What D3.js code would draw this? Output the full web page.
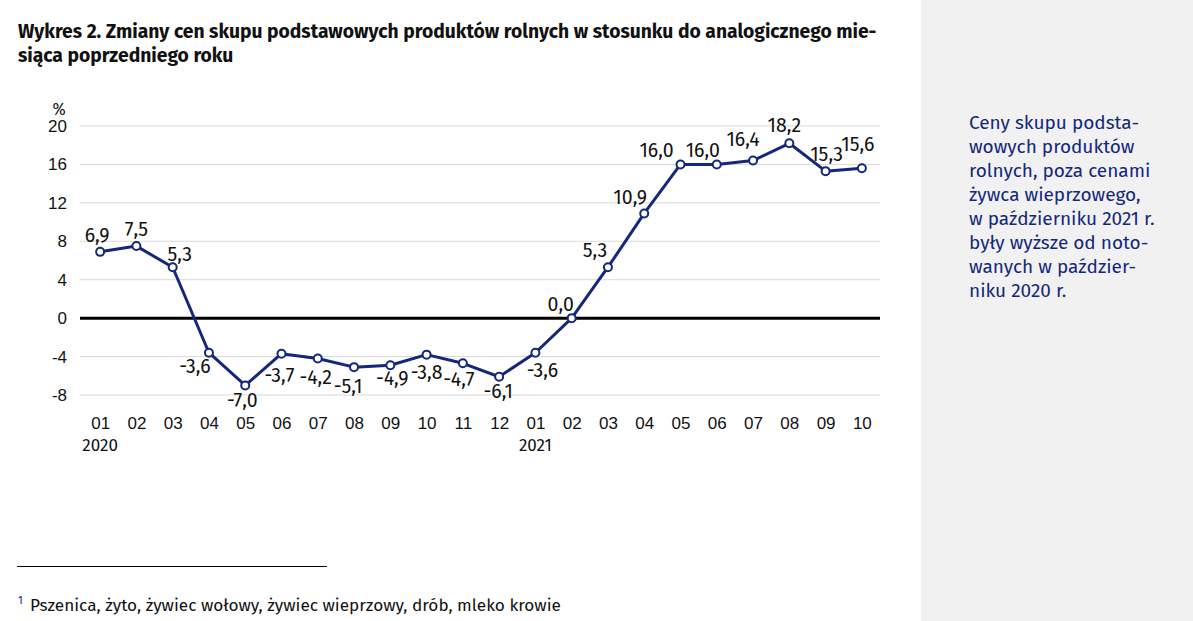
<!DOCTYPE html>
<html>
<head>
<meta charset="utf-8">
<script src="https://cdn.jsdelivr.net/npm/d3@7"></script>
<style>
  body { margin: 0; background: #fff; }
  svg { display: block; font-family: "Fira Sans", Roboto, "Noto Sans", sans-serif; }
</style>
</head>
<body>
<script>
// ---- data
const months = ["01","02","03","04","05","06","07","08","09","10","11","12",
                "01","02","03","04","05","06","07","08","09","10"];
const years = ["2020","","","","","","","","","","","",
               "2021","","","","","","","","",""];
const values = [6.9, 7.5, 5.3, -3.6, -7.0, -3.7, -4.2, -5.1, -4.9, -3.8, -4.7, -6.1,
                -3.6, 0.0, 5.3, 10.9, 16.0, 16.0, 16.4, 18.2, 15.3, 15.6];
const yTicks = [-8, -4, 0, 4, 8, 12, 16, 20];

// label nudges (px) from each point, the labels in the original were hand placed
const labelNudge = [
  [-3, -10], [0, -10], [7, -6], [-14, 20], [-3, 22], [-2, 28], [-2, 26], [-6, 26],
  [2, 20], [0, 24], [-4, 23], [-1, 21], [7, 24], [-11, -7], [-13, -10], [-14, -9],
  [-24, -7], [-14, -7], [-10, -15], [-5, -11], [1, -10], [-4, -17]
];

const titleLines = [
  "Wykres 2. Zmiany cen skupu podstawowych produktów rolnych w stosunku do analogicznego mie-",
  "siąca poprzedniego roku"
];
const sideLines = [
  "Ceny skupu podsta-",
  "wowych produktów",
  "rolnych, poza cenami",
  "żywca wieprzowego,",
  "w październiku 2021 r.",
  "były wyższe od noto-",
  "wanych w paździer-",
  "niku 2020 r."
];
const footnote = "Pszenica, żyto, żywiec wołowy, żywiec wieprzowy, drób, mleko krowie";

//---- drawing
const W = 1193, H = 621;
const navy = "#13287a";
const ink = "#111";
const plotX1 = 82, plotX2 = 880;

const svg = d3.select("body").append("svg")
  .attr("width", W)
  .attr("height", H);

// grey side panel
svg.append("rect")
  .attr("x", 921).attr("y", 0)
  .attr("width", W - 921).attr("height", H)
  .attr("fill", "#f1f1f1");

svg.append("g").selectAll("text")
    .data(sideLines)
    .enter()
  .append("text")
    .attr("x", 969)
    .attr("y", (d, i) => 129 + i * 24)
    .attr("fill", navy)
    .attr("font-size", 19)
    .text(d => d);

// title
svg.append("g").selectAll("text")
    .data(titleLines)
    .enter()
  .append("text")
    .attr("x", 18)
    .attr("y", (d, i) => 38 + i * 23.5)
    .attr("font-size", 19.3)
    .attr("font-weight", 700)
    .attr("fill", ink)
    .text(d => d);

const x = d3.scalePoint()
  .domain(d3.range(values.length))
  .range([plotX1, plotX2])
  .padding(0.5);

const y = d3.scaleLinear()
  .domain([-8, 20])
  .range([395, 126]);

// gridlines
svg.append("g").selectAll("line")
    .data(yTicks.filter(t => t !== 0))
    .enter()
  .append("line")
    .attr("x1", plotX1 - 2).attr("x2", plotX2)
    .attr("y1", d => y(d)).attr("y2", d => y(d))
    .attr("stroke", "#d9d9d9")
    .attr("stroke-width", 1);

// y axis labels
const yAxis = d3.axisLeft(y)
  .tickValues(yTicks)
  .tickSize(0)
  .tickPadding(0)
  .tickFormat(d => String(d));

svg.append("g")
    .attr("transform", "translate(67,0)")
    .call(yAxis)
    .call(g => g.select(".domain").remove())
    .call(g => g.selectAll("text")
      .attr("font-size", 17)
      .attr("fill", ink)
      .style("font-family", "inherit"));

svg.append("text")
  .attr("x", 59).attr("y", 115)
  .attr("text-anchor", "middle")
  .attr("font-size", 16)
  .attr("fill", ink)
  .text("%");

// zero line
svg.append("line")
  .attr("x1", plotX1 - 2).attr("x2", plotX2)
  .attr("y1", y(0)).attr("y2", y(0))
  .attr("stroke", "#000")
  .attr("stroke-width", 3);

// x axis labels: months + years
const xAxis = d3.axisBottom(x)
  .tickSize(0)
  .tickPadding(0)
  .tickFormat(i => months[i]);

svg.append("g")
    .attr("transform", "translate(0,429)")
    .call(xAxis)
    .call(g => g.select(".domain").remove())
    .call(g => g.selectAll("text")
      .attr("dy", 0)
      .attr("font-size", 17)
      .attr("font-weight", 400)
      .attr("fill", ink)
      .style("font-family", "inherit"));

svg.append("g").selectAll("text")
    .data(years.map((yr, i) => ({ yr, i })).filter(d => d.yr))
    .enter()
  .append("text")
    .attr("x", d => x(d.i))
    .attr("y", 451)
    .attr("text-anchor", "middle")
    .attr("font-size", 17)
    .attr("font-weight", 400)
    .attr("fill", ink)
    .text(d => d.yr);

// the line
const line = d3.line()
  .x((d, i) => x(i))
  .y(d => y(d));

svg.append("path")
  .datum(values)
  .attr("d", line)
  .attr("fill", "none")
  .attr("stroke", navy)
  .attr("stroke-width", 3)
  .attr("stroke-linejoin", "round");

svg.append("g").selectAll("circle")
    .data(values)
    .enter()
  .append("circle")
    .attr("cx", (d, i) => x(i))
    .attr("cy", d => y(d))
    .attr("r", 4)
    .attr("fill", "#fff")
    .attr("stroke", navy)
    .attr("stroke-width", 2);

// value labels
svg.append("g").selectAll("text")
    .data(values)
    .enter()
  .append("text")
    .attr("x", (d, i) => x(i) + labelNudge[i][0])
    .attr("y", (d, i) => y(d) + labelNudge[i][1])
    .attr("text-anchor", "middle")
    .attr("font-size", 19.5)
    .attr("fill", ink)
    .text(d => d.toFixed(1).replace(".", ","));

// footnote
svg.append("line")
  .attr("x1", 17).attr("x2", 327)
  .attr("y1", 566.5).attr("y2", 566.5)
  .attr("stroke", "#000")
  .attr("stroke-width", 1);

svg.append("text")
  .attr("x", 18).attr("y", 604)
  .attr("font-size", 11)
  .attr("fill", navy)
  .text("1");

svg.append("text")
  .attr("x", 30).attr("y", 611)
  .attr("font-size", 17.2)
  .attr("fill", ink)
  .text(footnote);
</script>
</body>
</html>
